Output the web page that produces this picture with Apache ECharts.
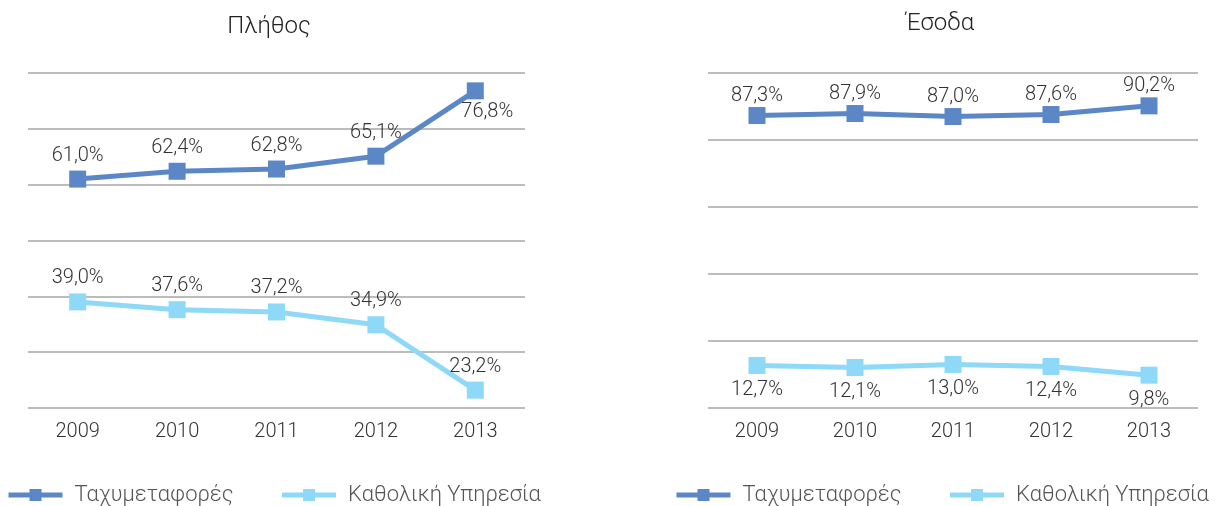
<!DOCTYPE html>
<html><head><meta charset="utf-8">
<script src="https://cdn.jsdelivr.net/npm/echarts@6/dist/echarts.min.js"></script>
<style>html,body{margin:0;padding:0;background:#fff}#c{width:1221px;height:506px}</style>
</head><body><div id="c"></div>
<script>
const years = ['2009','2010','2011','2012','2013'];
const countCourier = [61.0, 62.4, 62.8, 65.1, 76.8];
const countUniversal = [39.0, 37.6, 37.2, 34.9, 23.2];
const revCourier = [87.3, 87.9, 87.0, 87.6, 90.2];
const revUniversal = [12.7, 12.1, 13.0, 12.4, 9.8];
const seriesNames = ['Ταχυμεταφορές', 'Καθολική Υπηρεσία'];
const titles = ['Πλήθος', 'Έσοδα'];

const FONT = 'Roboto';
const C1 = '#5B87C7', C2 = '#8ED8F8';
const fmt = p => p.value.toFixed(1).replace('.', ',') + '%';
const lbl = (pos, dist, off) => ({show:true, position:pos, distance:dist, offset:off||[0,0], formatter:fmt, fontFamily:FONT, fontWeight:300, fontSize:20, color:'#333'});

function mk(name, data, color, xi, label, labelFn){
  return {
    type:'line', name, data: data.map((v,i)=>{ const o={value:v}; if(labelFn){const l=labelFn(i); if(l) o.label=l;} return o; }),
    xAxisIndex:xi, yAxisIndex:xi, symbol:'rect', symbolSize:17,
    lineStyle:{color, width:5}, itemStyle:{color}, label, z: name===seriesNames[0]?3:2
  };
}

const chart = echarts.init(document.getElementById('c'));
const axisX = gi => ({type:'category', gridIndex:gi, data:years, boundaryGap:true,
  axisLine:{show:false}, axisTick:{show:false},
  axisLabel:{fontFamily:FONT, fontWeight:300, fontSize:20, color:'#333', margin:14}});
const axisY = (gi,min,max,iv) => ({type:'value', gridIndex:gi, min, max, interval:iv,
  axisLabel:{show:false}, axisLine:{show:false}, axisTick:{show:false},
  splitLine:{lineStyle:{color:'#A6A6A6', width:1.5}}});
const legendText = {fontFamily:FONT, fontWeight:300, fontSize:22, color:'#555', padding:[0,0,0,7]};

chart.setOption({
  animation:false,
  title:[
    {text:titles[0], left:264, top:10, textAlign:'center', textStyle:{fontFamily:FONT, fontWeight:300, fontSize:24, color:'#222'}},
    {text:titles[1], left:935, top:7, textAlign:'center', textStyle:{fontFamily:FONT, fontWeight:300, fontSize:24, color:'#222'}}
  ],
  legend:[
    {data:seriesNames, left:1, top:479, itemWidth:54, itemHeight:15, itemGap:46, lineStyle:{width:5},
     textStyle:legendText},
    {data:seriesNames, left:669, top:479, itemWidth:54, itemHeight:15, itemGap:46, lineStyle:{width:5},
     textStyle:legendText}
  ],
  grid:[
    {left:28, right:696, top:73, bottom:98},
    {left:708, right:23, top:73, bottom:98}
  ],
  xAxis:[axisX(0), axisX(1)],
  yAxis:[axisY(0,20,80,10), axisY(1,0,100,20)],
  series:[
    mk(seriesNames[0], countCourier, C1, 0, lbl('top',5), i=> i===4 ? lbl('bottom',3,[12,0]) : null),
    mk(seriesNames[1], countUniversal, C2, 0, lbl('top',5)),
    mk(seriesNames[0], revCourier, C1, 1, lbl('top',1)),
    mk(seriesNames[1], revUniversal, C2, 1, lbl('bottom',6))
  ]
});
</script></body></html>
